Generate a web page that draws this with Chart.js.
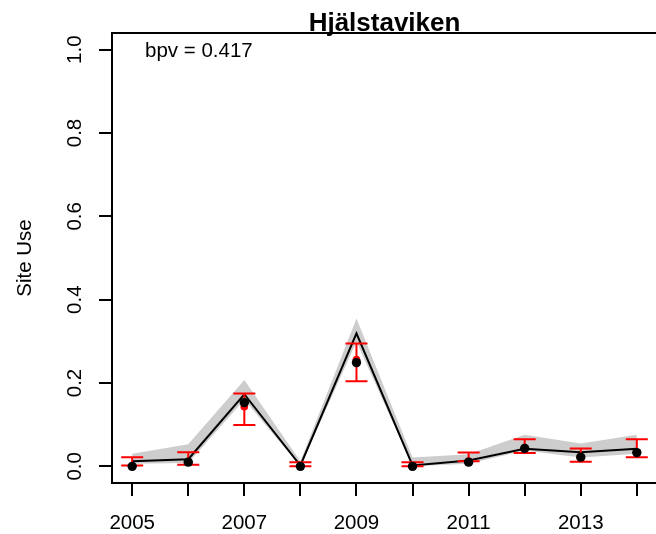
<!DOCTYPE html>
<html>
<head>
<meta charset="utf-8">
<script src="https://cdn.jsdelivr.net/npm/chart.js@4/dist/chart.umd.min.js"></script>
<style>
  html, body { margin: 0; padding: 0; background: #fff; overflow: hidden; }
  #wrap { position: relative; width: 700px; height: 534px; }
</style>
</head>
<body>
<div id="wrap"><canvas id="myChart"></canvas></div>
<script>
const years = [2005, 2006, 2007, 2008, 2009, 2010, 2011, 2012, 2013, 2014];
const xTickLabels = ['2005', '', '2007', '', '2009', '', '2011', '', '2013', ''];
const yTicks = [0, 0.2, 0.4, 0.6, 0.8, 1.0];

// model: credible band and median
const bandUpper = [0.030, 0.053, 0.207, 0.012, 0.355, 0.021, 0.029, 0.076, 0.055, 0.076];
const bandLower = [0.006, 0.008, 0.160, 0.000, 0.299, 0.000, 0.006, 0.038, 0.021, 0.030];
const medianLine = [0.012, 0.017, 0.173, 0.002, 0.319, 0.002, 0.014, 0.042, 0.034, 0.042];
// observed with intervals
const observed = [0.000, 0.010, 0.143, 0.000, 0.256, 0.000, 0.012, 0.043, 0.022, 0.033];
const obsLower = [0.002, 0.004, 0.099, 0.000, 0.204, 0.000, 0.012, 0.032, 0.011, 0.022];
const obsUpper = [0.022, 0.034, 0.175, 0.010, 0.295, 0.010, 0.033, 0.065, 0.043, 0.065];
// estimate points
const estimate = [0.000, 0.010, 0.153, 0.000, 0.249, 0.000, 0.010, 0.043, 0.022, 0.033];

const chartTitle = 'Hjälstaviken';
const bpvText = 'bpv = 0.417';
const yTitle = 'Site Use';

const FONT = '"Liberation Sans", Arial, sans-serif';
const pts = arr => years.map((x, i) => ({ x: x, y: arr[i] }));

const extras = {
    id: 'extras',
    beforeDatasetDraw(chart, args) {
        if (args.index !== 3) return;
        const ctx = chart.ctx;
        const xs = chart.scales.x, ys = chart.scales.y;
        ctx.save();
        ctx.strokeStyle = 'rgb(255,0,0)';
        ctx.lineWidth = 2;
        years.forEach((yr, i) => {
            const px = xs.getPixelForValue(yr);
            const lo = ys.getPixelForValue(obsLower[i]);
            const hi = ys.getPixelForValue(obsUpper[i]);
            ctx.beginPath();
            ctx.moveTo(px, lo); ctx.lineTo(px, hi);
            ctx.moveTo(px - 11, lo); ctx.lineTo(px + 11, lo);
            ctx.moveTo(px - 11, hi); ctx.lineTo(px + 11, hi);
            ctx.stroke();
        });
        ctx.restore();
    },
    afterDraw(chart) {
        const ctx = chart.ctx;
        const a = chart.chartArea;
        ctx.save();
        ctx.strokeStyle = '#000';
        ctx.lineWidth = 2;
        ctx.strokeRect(a.left, a.top, a.right - a.left, a.bottom - a.top);
        ctx.fillStyle = '#000';
        ctx.textBaseline = 'alphabetic';
        ctx.font = 'bold 26px ' + FONT;
        ctx.textAlign = 'center';
        ctx.fillText(chartTitle, (a.left + a.right) / 2, 31);
        ctx.font = '20.5px ' + FONT;
        ctx.textAlign = 'left';
        ctx.fillText(bpvText, 145, 57);
        ctx.restore();
    }
};

const config = {
    type: 'line',
    data: {
        datasets: [
            { data: pts(bandUpper), borderWidth: 0, pointRadius: 0, fill: '+1',
              backgroundColor: 'rgb(205,205,205)', order: 6 },
            { data: pts(bandLower), borderWidth: 0, pointRadius: 0, fill: false, order: 5 },
            { data: pts(medianLine), borderColor: '#000', borderWidth: 2, pointRadius: 0,
              fill: false, tension: 0, order: 4 },
            { data: pts(observed), showLine: false, pointRadius: 3.8, pointBorderWidth: 0,
              pointBackgroundColor: 'rgb(255,0,0)', order: 3 },
            { data: pts(estimate), showLine: false, pointRadius: 4.7, pointBorderWidth: 0,
              pointBackgroundColor: '#000', order: 2 }
        ]
    },
    options: {
        responsive: true,
        maintainAspectRatio: false,
        animation: false,
        layout: { padding: { left: 0, top: 33, right: 43, bottom: 0 } },
        plugins: { legend: { display: false }, tooltip: { enabled: false }, title: { display: false } },
        scales: {
            x: {
                type: 'linear',
                min: 2004.64,
                max: 2014.36,
                afterBuildTicks: axis => { axis.ticks = years.map(v => ({ value: v })); },
                afterFit: axis => { axis.height = 51; },
                border: { display: false },
                grid: { drawOnChartArea: false, drawTicks: true, tickLength: 13, color: '#000', lineWidth: 2 },
                ticks: {
                    autoSkip: false, maxRotation: 0, minRotation: 0, padding: 15, color: '#000',
                    font: { family: FONT, size: 20.5 },
                    callback: (v, i) => xTickLabels[i]
                }
            },
            y: {
                min: -0.04,
                max: 1.04,
                afterBuildTicks: axis => { axis.ticks = yTicks.map(v => ({ value: v })); },
                afterFit: axis => { axis.width = 112; },
                border: { display: false },
                grid: { drawOnChartArea: false, drawTicks: true, tickLength: 13, color: '#000', lineWidth: 2 },
                title: { display: true, text: yTitle, color: '#000', font: { family: FONT, size: 20.5 },
                         padding: { top: 13, bottom: 0 } },
                ticks: {
                    minRotation: 90, maxRotation: 90, crossAlign: 'center', padding: 9, color: '#000',
                    font: { family: FONT, size: 20.5 },
                    callback: v => v.toFixed(1)
                }
            }
        }
    },
    plugins: [extras]
};

new Chart(document.getElementById('myChart').getContext('2d'), config);
</script>
</body>
</html>
